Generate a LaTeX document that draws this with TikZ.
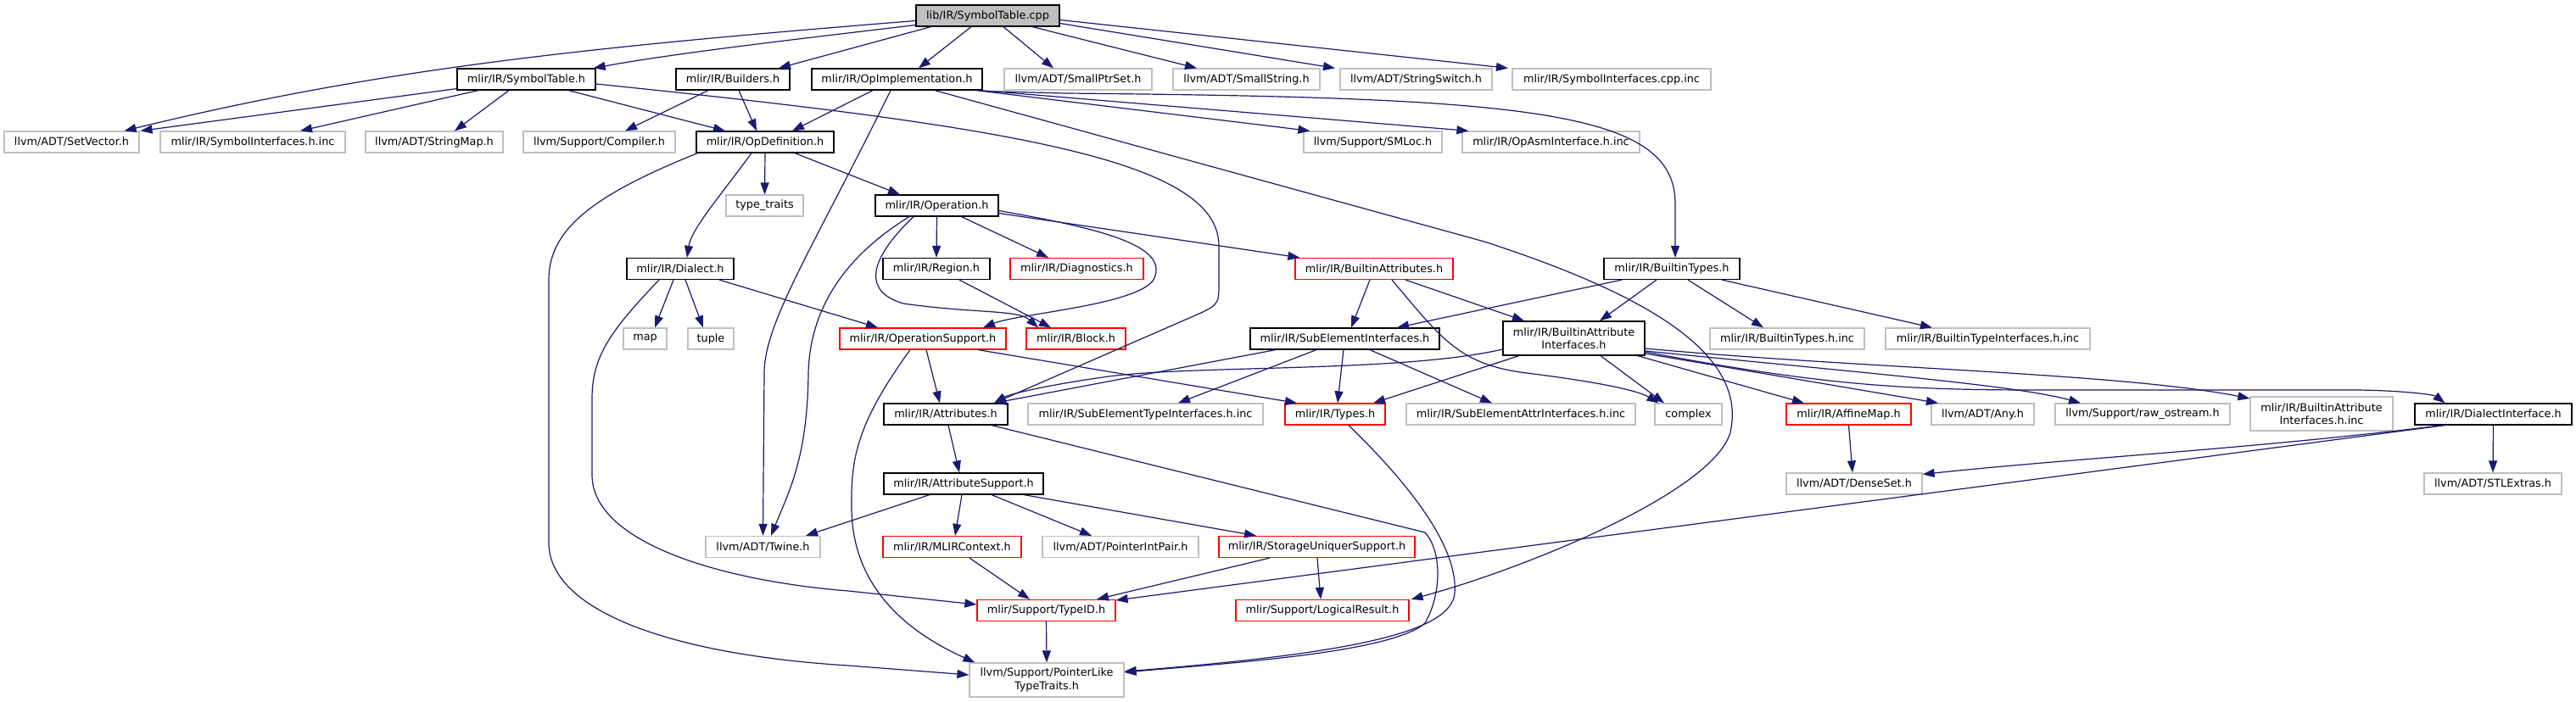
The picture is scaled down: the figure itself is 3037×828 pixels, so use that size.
\documentclass[tikz,border=0pt]{standalone}
\usepackage{fontspec}
\setmainfont{DejaVu Sans}
\usetikzlibrary{arrows.meta,calc}
\definecolor{edgec}{HTML}{191970}
\definecolor{grayb}{HTML}{BFBFBF}
\definecolor{redb}{HTML}{FF0000}
\tikzset{
 box/.style={rectangle, inner sep=0pt, minimum height=12.5pt, font=\fontsize{6.4}{7.7}\selectfont, line width=0.6pt, fill=white},
 doc/.style={box, draw=black},
 ext/.style={box, draw=grayb},
 trunc/.style={box, draw=redb},
 root/.style={box, draw=black, fill=grayb},
 wd/.style={minimum width=#1*0.5pt},
 tall/.style={minimum height=20pt, align=center},
 e/.style={draw=edgec, line width=0.6pt, -{Triangle[length=7pt,width=5pt]}},
}
\begin{document}
\begin{tikzpicture}[x=0.5pt,y=-0.5pt]
\fill[white] (0,0) rectangle (3037,828);
\useasboundingbox (0,0) rectangle (3037,828);
% row 0
\node[root, wd=169] (cpp) at (1164.5,18.5) {lib/IR/SymbolTable.cpp};
% row 1
\node[doc, wd=163] (st) at (620.5,93.5) {mlir/IR/SymbolTable.h};
\node[doc, wd=134] (bld) at (864,93.5) {mlir/IR/Builders.h};
\node[doc, wd=201] (opi) at (1057.5,93.5) {mlir/IR/OpImplementation.h};
\node[ext, wd=174] (sps) at (1271,93.5) {llvm/ADT/SmallPtrSet.h};
\node[ext, wd=173] (sst) at (1469.5,93.5) {llvm/ADT/SmallString.h};
\node[ext, wd=179] (ssw) at (1669.5,93.5) {llvm/ADT/StringSwitch.h};
\node[ext, wd=234] (sic) at (1900,93.5) {mlir/IR/SymbolInterfaces.cpp.inc};
% row 2
\node[ext, wd=159] (setv) at (84.5,167.5) {llvm/ADT/SetVector.h};
\node[ext, wd=218] (sihi) at (298,167.5) {mlir/IR/SymbolInterfaces.h.inc};
\node[ext, wd=162] (smap) at (512,167.5) {llvm/ADT/StringMap.h};
\node[ext, wd=179] (comp) at (706.5,167.5) {llvm/Support/Compiler.h};
\node[doc, wd=162] (opd) at (902,167.5) {mlir/IR/OpDefinition.h};
\node[ext, wd=163] (sml) at (1618.5,167.5) {llvm/Support/SMLoc.h};
\node[ext, wd=209] (oai) at (1828.5,167.5) {mlir/IR/OpAsmInterface.h.inc};
% row 3
\node[ext, wd=91] (tt) at (901.5,242.5) {type\_traits};
\node[doc, wd=145] (op) at (1104.5,242.5) {mlir/IR/Operation.h};
% row 4
\node[doc, wd=126] (dia) at (802,317) {mlir/IR/Dialect.h};
\node[doc, wd=126] (reg) at (1104,317) {mlir/IR/Region.h};
\node[trunc, wd=157] (diag) at (1269.5,317) {mlir/IR/Diagnostics.h};
\node[trunc, wd=186] (ba) at (1620,317) {mlir/IR/BuiltinAttributes.h};
\node[doc, wd=160] (bt) at (1971,317) {mlir/IR/BuiltinTypes.h};
% row 5
\node[ext, wd=51] (map) at (760.5,399.5) {map};
\node[ext, wd=54] (tup) at (838,399.5) {tuple};
\node[trunc, wd=196] (ops) at (1088,399.5) {mlir/IR/OperationSupport.h};
\node[trunc, wd=117] (blk) at (1268.5,399.5) {mlir/IR/Block.h};
\node[doc, wd=223] (sei) at (1585.5,399.5) {mlir/IR/SubElementInterfaces.h};
\node[doc, wd=167, tall] (bai) at (1855.5,399) {mlir/IR/BuiltinAttribute\\Interfaces.h};
\node[ext, wd=182] (bti) at (2107,399.5) {mlir/IR/BuiltinTypes.h.inc};
\node[ext, wd=241] (btii) at (2343.5,399.5) {mlir/IR/BuiltinTypeInterfaces.h.inc};
% row 6
\node[doc, wd=146] (attr) at (1115,488.5) {mlir/IR/Attributes.h};
\node[ext, wd=277] (seti) at (1350.5,488.5) {mlir/IR/SubElementTypeInterfaces.h.inc};
\node[trunc, wd=118] (typ) at (1574,488.5) {mlir/IR/Types.h};
\node[ext, wd=270] (seai) at (1793,488.5) {mlir/IR/SubElementAttrInterfaces.h.inc};
\node[ext, wd=79] (cplx) at (1990.5,488.5) {complex};
\node[trunc, wd=147] (amap) at (2179.5,488.5) {mlir/IR/AffineMap.h};
\node[ext, wd=121] (any) at (2337.5,488.5) {llvm/ADT/Any.h};
\node[ext, wd=206] (ros) at (2526,488.5) {llvm/Support/raw\_ostream.h};
\node[ext, wd=168, tall] (baii) at (2737,488) {mlir/IR/BuiltinAttribute\\Interfaces.h.inc};
\node[doc, wd=185] (dint) at (2939.5,488.5) {mlir/IR/DialectInterface.h};
% row 7
\node[doc, wd=188] (asup) at (1136,570.5) {mlir/IR/AttributeSupport.h};
\node[ext, wd=160] (dset) at (2186,570.5) {llvm/ADT/DenseSet.h};
\node[ext, wd=162] (stl) at (2939,570.5) {llvm/ADT/STLExtras.h};
% row 8
\node[ext, wd=135] (tw) at (899.5,645) {llvm/ADT/Twine.h};
\node[trunc, wd=163] (mlc) at (1122.5,645) {mlir/IR/MLIRContext.h};
\node[ext, wd=184] (pip) at (1321,645) {llvm/ADT/PointerIntPair.h};
\node[trunc, wd=231] (sus) at (1552.5,645) {mlir/IR/StorageUniquerSupport.h};
% row 9
\node[trunc, wd=163] (tid) at (1233.5,720) {mlir/Support/TypeID.h};
\node[trunc, wd=204] (lr) at (1559,720) {mlir/Support/LogicalResult.h};
% row 10
\node[ext, wd=182, tall] (plt) at (1234,802) {llvm/Support/PointerLike\\TypeTraits.h};

% ---- edges from cpp
\draw[e] ($(cpp.west)+(0,6)$) .. controls (700,55) and (450,80) .. ($(setv.north)+(62,0)$);
\draw[e] ($(cpp.west)+(0,11)$) .. controls (950,45) and (800,62) .. ($(st.north east)+(-3,0)$);
\draw[e] ($(cpp.south west)+(18,0)$) -- ($(bld.north)+(54,0)$);
\draw[e] ($(cpp.south)+(-19.5,0)$) -- ($(opi.north)+(25.5,0)$);
\draw[e] ($(cpp.south)+(18.5,0)$) -- ($(sps.north)+(-29,0)$);
\draw[e] ($(cpp.south)+(52.5,0)$) -- ($(sst.north)+(-58.5,0)$);
\draw[e] ($(cpp.east)+(0,9)$) -- ($(ssw.north)+(-95.5,0)$);
\draw[e] ($(cpp.east)+(0,5)$) -- ($(sic.north)+(-122,0)$);
% ---- SymbolTable.h
\draw[e] ($(st.south west)+(0,-2)$) -- ($(setv.north)+(81,0)$);
\draw[e] ($(st.south)+(-56.5,0)$) -- ($(sihi.north)+(56,0)$);
\draw[e] ($(st.south)+(-20.5,0)$) -- ($(smap.north)+(24,0)$);
\draw[e] ($(st.south)+(49.5,0)$) -- ($(opd.north)+(-47,0)$);
\draw[e] ($(st.east)+(0,5.5)$) .. controls (1200,150) and (1437,190) .. (1437,290) -- (1437,335) .. controls (1437,360) .. (1400,376) -- ($(attr.north)+(57,0)$);
% ---- Builders.h
\draw[e] ($(bld.south)+(-29,0)$) -- ($(comp.north)+(30.5,0)$);
\draw[e] ($(bld.south)+(7,0)$) -- ($(opd.north)+(-10,0)$);
% ---- OpImplementation.h
\draw[e] ($(opi.south)+(-28.5,0)$) -- ($(opd.north)+(32,0)$);
\draw[e] ($(opi.south)+(-7.5,0)$) .. controls (960,290) and (901,380) .. (901,440) -- (tw.north);
\draw[e] ($(opi.south east)+(-8,0)$) -- ($(sml.north west)+(8,0)$);
\draw[e] ($(opi.south east)+(-3,0)$) -- ($(oai.north west)+(8,0)$);
\draw[e] ($(opi.east)+(0,14)$) -- (1255,110) .. controls (1800,115) and (1975,130) .. (1975,240) -- ($(bt.north)+(4,0)$);
\draw[e] ($(opi.south)+(44.5,0)$) -- (1750,285) .. controls (1950,350) and (2060,420) .. (2040,510) .. controls (2020,580) and (1800,670) .. ($(lr.north east)+(2,0)$);
% ---- OpDefinition.h
\draw[e] (opd.south) -- (tt.north);
\draw[e] ($(opd.south)+(-16,0)$) .. controls (850,230) and (815,270) .. ($(dia.north)+(8,0)$);
\draw[e] ($(opd.south)+(35,0)$) -- ($(op.north)+(-43.5,0)$);
\draw[e] ($(opd.south west)+(2,0)$) .. controls (700,230) and (647,270) .. (647,330) -- (647,640) .. controls (647,720) and (790,772) .. (1000,785) -- ($(plt.west)+(0,-6)$);
% ---- Dialect.h
\draw[e] ($(dia.south)+(-8,0)$) -- ($(map.north)+(11.5,0)$);
\draw[e] ($(dia.south)+(6,0)$) -- ($(tup.north)+(-9,0)$);
\draw[e] ($(dia.south)+(46,0)$) -- ($(ops.north)+(-53,0)$);
\draw[e] ($(dia.south)+(-25,0)$) .. controls (720,390) and (698,420) .. (698,470) -- (698,560) .. controls (698,640) and (850,685) .. (1000,697) -- ($(tid.west)+(0,-7)$);
% ---- Operation.h
\draw[e] (op.south) -- (reg.north);
\draw[e] ($(op.south)+(29,0)$) -- ($(diag.north)+(-33.5,0)$);
\draw[e] ($(op.south)+(-27.5,0)$) .. controls (1020,310) and (1020,345) .. (1065,358) .. controls (1150,370) and (1200,365) .. ($(blk.north)+(-44.5,0)$);
\draw[e] ($(op.south)+(-32.5,0)$) .. controls (1000,300) and (955,360) .. (953,440) .. controls (952,540) and (930,580) .. ($(tw.north)+(9.5,0)$);
\draw[e] ($(op.east)+(0,6)$) .. controls (1300,270) and (1380,290) .. (1360,330) .. controls (1340,360) and (1200,370) .. ($(ops.north)+(71,0)$);
\draw[e] ($(op.east)+(0,9)$) -- ($(ba.north west)+(6,0)$);
% ---- Region.h
\draw[e] ($(reg.south)+(27,0)$) -- ($(blk.north)+(-29.5,0)$);
% ---- OperationSupport.h
\draw[e] ($(ops.south)+(4,0)$) -- ($(attr.north)+(-7,0)$);
\draw[e] ($(ops.south)+(65,0)$) -- ($(typ.north)+(-45,0)$);
\draw[e] ($(ops.south)+(-15,0)$) .. controls (1010,500) and (1003,540) .. (1004,600) .. controls (1005,700) and (1080,750) .. ($(plt.north west)+(7,0)$);
% ---- BuiltinAttributes.h
\draw[e] ($(ba.south)+(-5,0)$) -- ($(sei.north)+(7.5,0)$);
\draw[e] ($(ba.south)+(37,0)$) -- ($(bai.north)+(-58.5,0)$);
\draw[e] ($(ba.south)+(21,0)$) .. controls (1700,400) and (1720,430) .. (1800,440) .. controls (1880,450) and (1930,460) .. ($(cplx.north)+(-35,0)$);
% ---- BuiltinTypes.h
\draw[e] ($(bt.south)+(-59,0)$) -- ($(sei.north)+(61.5,0)$);
\draw[e] ($(bt.south)+(-18,0)$) -- ($(bai.north)+(30.5,0)$);
\draw[e] ($(bt.south)+(19,0)$) -- ($(bti.north)+(-28,0)$);
\draw[e] ($(bt.south)+(59,0)$) -- ($(btii.north)+(-65.5,0)$);
% ---- SubElementInterfaces.h
\draw[e] ($(sei.south)+(-81.5,0)$) -- ($(attr.north)+(57,0)$);
\draw[e] ($(sei.south)+(-33.5,0)$) -- ($(seti.north)+(38.5,0)$);
\draw[e] ($(sei.south)+(-1.5,0)$) -- ($(typ.north)+(3,0)$);
\draw[e] ($(sei.south)+(29.5,0)$) -- ($(seai.north)+(-34,0)$);
% ---- BuiltinAttributeInterfaces.h
\draw[e] ($(bai.west)+(0,13)$) .. controls (1650,440) and (1400,430) .. (1300,445) .. controls (1230,455) and (1190,465) .. ($(attr.north)+(57,0)$);
\draw[e] ($(bai.south)+(-64.5,0)$) -- ($(typ.north)+(45,0)$);
\draw[e] ($(bai.south)+(31.5,0)$) -- ($(cplx.north)+(-28.5,0)$);
\draw[e] ($(bai.south east)+(-9,0)$) -- ($(amap.north)+(-52.5,0)$);
\draw[e] ($(bai.east)+(0,18)$) -- ($(any.north)+(-52.5,0)$);
\draw[e] ($(bai.east)+(0,15)$) .. controls (2200,440) and (2380,455) .. ($(ros.north)+(-73,0)$);
\draw[e] ($(bai.east)+(0,12)$) .. controls (2200,435) and (2500,440) .. ($(baii.west)+(0,-18)$);
\draw[e] ($(bai.east)+(0,16)$) .. controls (2150,455) and (2250,460) .. (2400,460) -- (2780,460) .. controls (2840,461) and (2870,466) .. ($(dint.north)+(-57,0)$);
% ---- Attributes.h
\draw[e] ($(attr.south)+(3,0)$) -- ($(asup.north)+(-5,0)$);
\draw[e] ($(attr.south)+(54,0)$) -- (1680,628) .. controls (1700,650) and (1700,700) .. (1680,735) .. controls (1640,770) and (1450,782) .. ($(plt.east)+(0,-9)$);
% ---- Types.h
\draw[e] ($(typ.south)+(16,0)$) .. controls (1650,560) and (1720,640) .. (1715,700) .. controls (1710,745) and (1600,770) .. ($(plt.east)+(0,-10)$);
% ---- AttributeSupport.h
\draw[e] ($(asup.south)+(-40,0)$) -- ($(tw.north)+(50.5,0)$);
\draw[e] ($(asup.south)+(-2,0)$) -- ($(mlc.north)+(3.5,0)$);
\draw[e] ($(asup.south)+(33,0)$) -- ($(pip.north)+(-34,0)$);
\draw[e] ($(asup.south)+(71,0)$) -- ($(sus.north)+(-71.5,0)$);
% ---- lower
\draw[e] ($(mlc.south)+(20.5,0)$) -- ($(tid.north)+(-19.5,0)$);
\draw[e] ($(sus.south)+(-55.5,0)$) -- ($(tid.north)+(59.5,0)$);
\draw[e] ($(sus.south)+(0.5,0)$) -- ($(lr.north)+(-2,0)$);
\draw[e] (tid.south) -- (plt.north);
\draw[e] (amap.south) -- ($(dset.north)+(-2,0)$);
\draw[e] ($(dint.south)+(-59.5,0)$) .. controls (2650,530) and (2450,540) .. ($(dset.north east)+(0,2)$);
\draw[e] ($(dint.south)+(-57,0)$) -- ($(tid.east)+(0,-12)$);
\draw[e] (dint.south) -- (stl.north);
\end{tikzpicture}
\end{document}
